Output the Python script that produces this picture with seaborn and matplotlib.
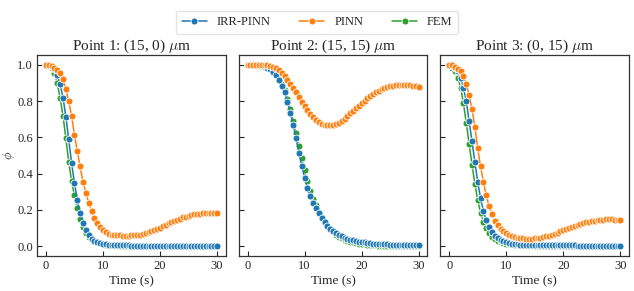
import numpy as np
import pandas as pd
import seaborn as sns
import matplotlib.pyplot as plt

# time grid (s)
time = np.arange(0, 30.5, 0.5)

# Point 1: (15, 0)
p1_irr = [1.000, 0.998, 0.992, 0.975, 0.945, 0.895, 0.820, 0.715, 0.590, 0.460,
          0.350, 0.255, 0.183, 0.127, 0.087, 0.060, 0.042, 0.030, 0.022, 0.016,
          0.012, 0.009, 0.007, 0.006, 0.005, 0.005, 0.004, 0.004, 0.004, 0.004,
          0.003, 0.003, 0.003, 0.003, 0.003, 0.003, 0.003, 0.003, 0.003, 0.003,
          0.003, 0.003, 0.003, 0.003, 0.003, 0.002, 0.002, 0.002, 0.002, 0.002,
          0.002, 0.002, 0.002, 0.002, 0.002, 0.002, 0.002, 0.002, 0.002, 0.002, 0.002]
p1_pinn = [1.000, 1.000, 0.995, 0.985, 0.970, 0.955, 0.920, 0.865, 0.800, 0.720,
           0.615, 0.525, 0.440, 0.355, 0.295, 0.240, 0.195, 0.155, 0.125, 0.105,
           0.088, 0.077, 0.069, 0.064, 0.061, 0.060, 0.059, 0.058, 0.058, 0.058,
           0.059, 0.060, 0.062, 0.064, 0.067, 0.071, 0.076, 0.082, 0.088, 0.095,
           0.102, 0.110, 0.117, 0.125, 0.132, 0.139, 0.146, 0.152, 0.158, 0.163,
           0.168, 0.172, 0.175, 0.178, 0.180, 0.181, 0.182, 0.182, 0.182, 0.182, 0.182]
p1_fem = [1.000, 0.995, 0.985, 0.955, 0.900, 0.815, 0.720, 0.595, 0.465, 0.360,
          0.280, 0.210, 0.150, 0.105, 0.074, 0.052, 0.037, 0.027, 0.020, 0.015,
          0.011, 0.008, 0.006, 0.005, 0.004, 0.004, 0.003, 0.003, 0.003, 0.002,
          0.002, 0.002, 0.002, 0.002, 0.002, 0.002, 0.002, 0.002, 0.002, 0.002,
          0.002, 0.002, 0.002, 0.002, 0.002, 0.001, 0.001, 0.001, 0.001, 0.001,
          0.001, 0.001, 0.001, 0.001, 0.001, 0.001, 0.001, 0.001, 0.001, 0.001, 0.001]

# Point 2: (15, 15)
p2_irr = [1.000, 1.000, 1.000, 0.999, 0.998, 0.995, 0.990, 0.984, 0.975, 0.962,
          0.943, 0.917, 0.886, 0.848, 0.797, 0.737, 0.670, 0.595, 0.515, 0.445,
          0.378, 0.320, 0.275, 0.240, 0.210, 0.181, 0.157, 0.134, 0.113, 0.097,
          0.084, 0.073, 0.063, 0.055, 0.047, 0.041, 0.036, 0.032, 0.028, 0.025,
          0.022, 0.020, 0.018, 0.016, 0.014, 0.013, 0.012, 0.011, 0.010, 0.009,
          0.008, 0.008, 0.007, 0.007, 0.006, 0.006, 0.005, 0.005, 0.005, 0.005, 0.005]
p2_pinn = [1.000, 1.000, 1.000, 1.000, 1.000, 1.000, 1.000, 0.998, 0.995, 0.990,
           0.983, 0.970, 0.955, 0.937, 0.918, 0.897, 0.872, 0.848, 0.822, 0.797,
           0.773, 0.750, 0.730, 0.712, 0.697, 0.685, 0.676, 0.671, 0.668, 0.668,
           0.670, 0.675, 0.682, 0.692, 0.704, 0.718, 0.733, 0.748, 0.762, 0.776,
           0.790, 0.803, 0.815, 0.827, 0.838, 0.848, 0.857, 0.865, 0.871, 0.877,
           0.882, 0.886, 0.889, 0.891, 0.892, 0.892, 0.891, 0.889, 0.886, 0.883, 0.880]
p2_fem = [1.000, 1.000, 1.000, 0.999, 0.998, 0.996, 0.992, 0.985, 0.975, 0.962,
          0.945, 0.922, 0.895, 0.860, 0.812, 0.757, 0.693, 0.625, 0.553, 0.485,
          0.418, 0.357, 0.305, 0.262, 0.225, 0.190, 0.160, 0.133, 0.110, 0.092,
          0.076, 0.063, 0.052, 0.043, 0.035, 0.029, 0.024, 0.020, 0.016, 0.013,
          0.011, 0.009, 0.007, 0.006, 0.005, 0.004, 0.003, 0.003, 0.003, 0.002,
          0.002, 0.002, 0.002, 0.002, 0.002, 0.002, 0.001, 0.001, 0.001, 0.001, 0.001]

# Point 3: (0, 15)
p3_irr = [1.000, 0.995, 0.985, 0.965, 0.930, 0.875, 0.800, 0.690, 0.580, 0.465,
          0.355, 0.265, 0.195, 0.142, 0.105, 0.078, 0.058, 0.045, 0.035, 0.027,
          0.021, 0.017, 0.014, 0.011, 0.009, 0.008, 0.007, 0.006, 0.006, 0.005,
          0.005, 0.005, 0.005, 0.005, 0.005, 0.004, 0.004, 0.004, 0.004, 0.004,
          0.004, 0.004, 0.004, 0.004, 0.004, 0.003, 0.003, 0.003, 0.003, 0.003,
          0.003, 0.003, 0.003, 0.003, 0.003, 0.003, 0.003, 0.003, 0.003, 0.003, 0.003]
p3_pinn = [1.000, 0.998, 0.990, 0.980, 0.967, 0.940, 0.895, 0.835, 0.755, 0.660,
           0.540, 0.440, 0.355, 0.280, 0.220, 0.175, 0.140, 0.115, 0.097, 0.082,
           0.071, 0.062, 0.055, 0.050, 0.047, 0.045, 0.043, 0.042, 0.042, 0.042,
           0.043, 0.045, 0.047, 0.050, 0.054, 0.058, 0.063, 0.069, 0.075, 0.081,
           0.087, 0.093, 0.099, 0.105, 0.111, 0.117, 0.122, 0.127, 0.131, 0.135,
           0.138, 0.141, 0.143, 0.145, 0.146, 0.147, 0.147, 0.147, 0.146, 0.145, 0.144]
p3_fem = [1.000, 0.985, 0.965, 0.930, 0.875, 0.790, 0.680, 0.565, 0.450, 0.345,
          0.255, 0.185, 0.135, 0.098, 0.072, 0.053, 0.040, 0.030, 0.023, 0.018,
          0.014, 0.011, 0.009, 0.007, 0.006, 0.005, 0.005, 0.004, 0.004, 0.004,
          0.003, 0.003, 0.003, 0.003, 0.003, 0.003, 0.003, 0.003, 0.003, 0.003,
          0.003, 0.003, 0.003, 0.003, 0.003, 0.002, 0.002, 0.002, 0.002, 0.002,
          0.002, 0.002, 0.002, 0.002, 0.002, 0.002, 0.002, 0.002, 0.002, 0.002, 0.002]

titles = [r"Point 1: (15, 0) $\mu$m", r"Point 2: (15, 15) $\mu$m", r"Point 3: (0, 15) $\mu$m"]
panels = [
    {"IRR-PINN": p1_irr, "PINN": p1_pinn, "FEM": p1_fem},
    {"IRR-PINN": p2_irr, "PINN": p2_pinn, "FEM": p2_fem},
    {"IRR-PINN": p3_irr, "PINN": p3_pinn, "FEM": p3_fem},
]
colors = {"IRR-PINN": "tab:blue", "PINN": "tab:orange", "FEM": "tab:green"}
draw_order = ["FEM", "IRR-PINN", "PINN"]
legend_order = ["IRR-PINN", "PINN", "FEM"]

sns.set_style("ticks")
plt.rcParams["font.family"] = ["Liberation Serif", "DejaVu Serif"]
plt.rcParams["mathtext.fontset"] = "cm"
plt.rcParams["axes.linewidth"] = 0.9
plt.rcParams["axes.edgecolor"] = "#333333"

fig, axes = plt.subplots(1, 3, figsize=(6.34, 2.91), dpi=100, sharey=True)
fig.subplots_adjust(left=0.0584, right=0.992, bottom=0.12, top=0.811, wspace=0.069)

for ax, title, series in zip(axes, titles, panels):
    for name in draw_order:
        df = pd.DataFrame({"t": time, "phi": series[name]})
        sns.lineplot(data=df, x="t", y="phi", ax=ax, color=colors[name], label=name,
                     marker="o", markersize=5, markeredgecolor="white",
                     markeredgewidth=0.6, linewidth=1.1, legend=False)
    ax.set_title(title, fontsize=11, pad=4)
    ax.set_xlabel("Time (s)", fontsize=9.5, labelpad=2)
    ax.set_ylabel("")
    ax.set_xlim(-1.55, 31.5)
    ax.set_ylim(-0.055, 1.055)
    ax.set_xticks([0, 10, 20, 30])
    ax.set_yticks([0.0, 0.2, 0.4, 0.6, 0.8, 1.0])
    ax.tick_params(direction="in", length=3.5, width=0.8, labelsize=9, pad=3)

axes[0].set_ylabel(r"$\phi$", fontsize=9)
axes[0].yaxis.set_label_coords(-0.105, 0.5)

handles, labels = axes[0].get_legend_handles_labels()
lookup = dict(zip(labels, handles))
fig.legend([lookup[n] for n in legend_order], legend_order, loc="upper center",
           bbox_to_anchor=(0.5, 0.985), ncol=3, fontsize=9, frameon=True,
           handlelength=2.0, columnspacing=2.3, borderpad=0.45, edgecolor="#dddddd")

plt.savefig("out.png", dpi=100)
